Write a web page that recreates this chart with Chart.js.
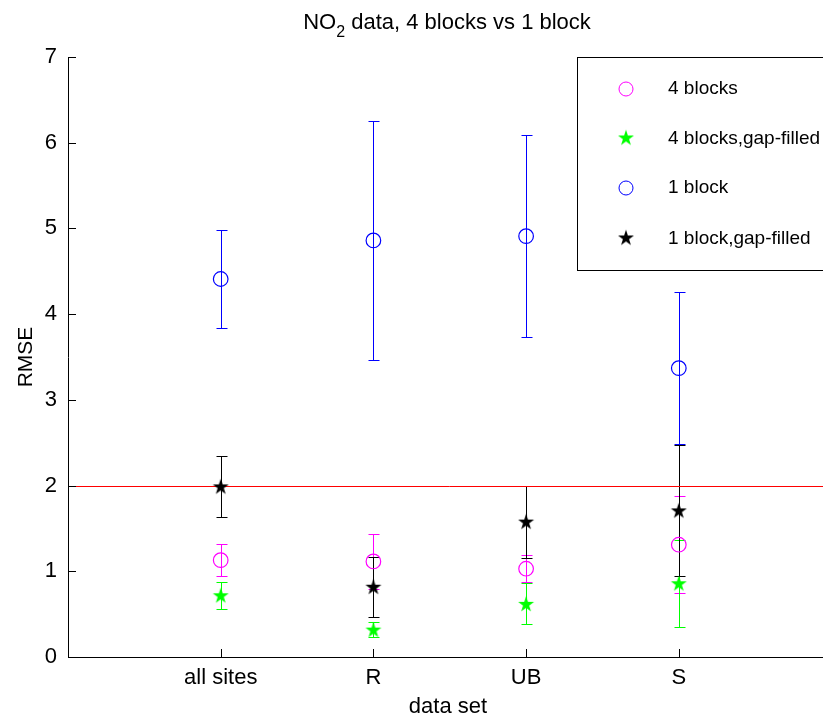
<!DOCTYPE html>
<html>
<head>
<meta charset="utf-8">
<title>NO2 data, 4 blocks vs 1 block</title>
<script src="https://cdn.jsdelivr.net/npm/chart.js@4.4.1/dist/chart.umd.min.js"></script>
<style>
  html, body { margin: 0; padding: 0; background: #fff; overflow: hidden; }
  #wrap { width: 823px; height: 720px; overflow: hidden; position: relative; }
  canvas { display: block; }
</style>
</head>
<body>
<div id="wrap"><canvas id="chart" width="840" height="720"></canvas></div>
<script>
// Categories and tick values
const categories = ['all sites', 'R', 'UB', 'S'];
const yTickValues = [0, 1, 2, 3, 4, 5, 6, 7];

// RMSE means and error half-widths per data set
const rmse4Blocks        = [1.13, 1.115, 1.03, 1.31];
const err4Blocks         = [0.185, 0.325, 0.16, 0.565];
const rmse4BlocksFilled  = [0.72, 0.32, 0.62, 0.86];
const err4BlocksFilled   = [0.16, 0.087, 0.24, 0.505];
const rmse1Block         = [4.41, 4.86, 4.91, 3.37];
const err1Block          = [0.57, 1.39, 1.18, 0.89];
const rmse1BlockFilled   = [1.99, 0.82, 1.58, 1.71];
const err1BlockFilled    = [0.36, 0.35, 0.42, 0.765];

// Reference level
const threshold = 2;
const xMin = 0, xMax = 5;

const FONT = "'Liberation Sans', Arial, Helvetica, sans-serif";

// Filled five-pointed star used as a point style
function makeStar(color) {
  const c = document.createElement('canvas');
  c.width = 20; c.height = 20;
  const g = c.getContext('2d');
  const R = 8.4, r = R * 0.382;
  g.beginPath();
  for (let i = 0; i < 10; i++) {
    const rad = i % 2 === 0 ? R : r;
    const a = -Math.PI / 2 + i * Math.PI / 5;
    const px = 10 + rad * Math.cos(a), py = 10.7 + rad * Math.sin(a);
    if (i === 0) g.moveTo(px, py); else g.lineTo(px, py);
  }
  g.closePath();
  g.fillStyle = color;
  g.fill();
  return c;
}
const starGreen = makeStar('#00ff00');
const starBlack = makeStar('#000000');

const series = [
  { label: '4 blocks',             values: rmse4Blocks,       errors: err4Blocks,       color: '#ff00ff', marker: 'circle', order: 4 },
  { label: '4 blocks,gap-filled',  values: rmse4BlocksFilled, errors: err4BlocksFilled, color: '#00ff00', marker: starGreen, order: 3 },
  { label: '1 block',              values: rmse1Block,        errors: err1Block,        color: '#0000ff', marker: 'circle', order: 2 },
  { label: '1 block,gap-filled',   values: rmse1BlockFilled,  errors: err1BlockFilled,  color: '#000000', marker: starBlack, order: 1 }
];

const datasets = series.map(s => ({
  label: s.label,
  data: s.values.map((v, i) => ({ x: i + 1, y: v })),
  borderColor: s.color,
  backgroundColor: 'rgba(0,0,0,0)',
  pointStyle: s.marker,
  pointRadius: 7.3,
  pointHoverRadius: 7.3,
  pointBorderWidth: 1.2,
  showLine: false,
  order: s.order
}));

// Vertical error bars with caps and the horizontal reference level,
// drawn before (under) the markers
const errorBars = {
  id: 'errorBars',
  beforeDatasetsDraw(chart) {
    const ctx = chart.ctx, ys = chart.scales.y, xs = chart.scales.x;
    ctx.save();
    ctx.lineWidth = 1;
    series.forEach(s => {
      ctx.strokeStyle = s.color;
      s.values.forEach((v, i) => {
        const x = Math.round(xs.getPixelForValue(i + 1)) + 0.5;
        const top = Math.round(ys.getPixelForValue(v + s.errors[i])) + 0.5;
        const bot = Math.round(ys.getPixelForValue(v - s.errors[i])) + 0.5;
        ctx.beginPath();
        ctx.moveTo(x, top); ctx.lineTo(x, bot);
        ctx.moveTo(x - 5, top); ctx.lineTo(x + 6, top);
        ctx.moveTo(x - 5, bot); ctx.lineTo(x + 6, bot);
        ctx.stroke();
      });
    });
    // threshold line across the full x range
    const ty = Math.round(ys.getPixelForValue(threshold)) + 0.5;
    ctx.strokeStyle = '#ff0000';
    ctx.beginPath();
    ctx.moveTo(xs.getPixelForValue(xMin), ty);
    ctx.lineTo(xs.getPixelForValue(xMax), ty);
    ctx.stroke();
    ctx.restore();
  }
};

// Inward tick marks, titles and the legend box
const decorations = {
  id: 'decorations',
  afterDraw(chart) {
    const ctx = chart.ctx, area = chart.chartArea;
    const xs = chart.scales.x, ys = chart.scales.y;
    ctx.save();
    ctx.strokeStyle = '#000';
    ctx.lineWidth = 1;
    ctx.beginPath();
    yTickValues.forEach(v => {
      const y = Math.round(ys.getPixelForValue(v)) + 0.5;
      ctx.moveTo(area.left, y); ctx.lineTo(area.left + 8, y);
    });
    categories.forEach((c, i) => {
      const x = Math.round(xs.getPixelForValue(i + 1)) + 0.5;
      ctx.moveTo(x, area.bottom); ctx.lineTo(x, area.bottom - 8);
    });
    ctx.stroke();

    // Title with subscript
    ctx.fillStyle = '#000';
    ctx.textBaseline = 'alphabetic';
    ctx.textAlign = 'left';
    const cx = 447;
    const big = '22px ' + FONT, small = '16px ' + FONT;
    const p1 = 'NO', p2 = '2', p3 = ' data, 4 blocks vs 1 block';
    ctx.font = big; const w1 = ctx.measureText(p1).width, w3 = ctx.measureText(p3).width;
    ctx.font = small; const w2 = ctx.measureText(p2).width;
    let tx = cx - (w1 + w2 + w3) / 2;
    const base = 29;
    ctx.font = big; ctx.fillText(p1, tx, base); tx += w1;
    ctx.font = small; ctx.fillText(p2, tx, base + 8); tx += w2;
    ctx.font = big; ctx.fillText(p3, tx, base);

    // Axis titles
    ctx.font = '22px ' + FONT;
    ctx.textAlign = 'center';
    ctx.textBaseline = 'middle';
    ctx.fillText('data set', 448, 707);
    ctx.save();
    ctx.translate(26, (area.top + area.bottom) / 2);
    ctx.rotate(-Math.PI / 2);
    ctx.font = '21px ' + FONT;
    ctx.fillText('RMSE', 0, 0);
    ctx.restore();

    // Legend
    const lx = 577.5, ly = 57.5, lw = 300, lh = 213;
    ctx.fillStyle = '#fff';
    ctx.fillRect(lx, ly, lw, lh);
    ctx.strokeStyle = '#000';
    ctx.strokeRect(lx, ly, lw, lh);
    ctx.font = '19px ' + FONT;
    ctx.textAlign = 'left';
    const rowY = [89, 138.5, 188, 238.5];
    series.forEach((s, i) => {
      const my = rowY[i], mx = 626;
      if (s.marker === 'circle') {
        ctx.beginPath();
        ctx.strokeStyle = s.color;
        ctx.lineWidth = 1;
        ctx.arc(mx, my, 7, 0, Math.PI * 2);
        ctx.stroke();
      } else {
        ctx.drawImage(s.marker, mx - 10, my - 11);
      }
      ctx.fillStyle = '#000';
      ctx.fillText(s.label, 668, my);
    });
    ctx.restore();
  }
};

Chart.defaults.font.family = FONT;
Chart.defaults.color = '#000';

new Chart(document.getElementById('chart'), {
  type: 'scatter',
  data: { datasets },
  options: {
    responsive: false,
    animation: false,
    devicePixelRatio: 1,
    layout: { padding: { top: 57, right: 8, left: 0, bottom: 0 } },
    plugins: { legend: { display: false }, tooltip: { enabled: false }, title: { display: false } },
    scales: {
      x: {
        type: 'linear',
        min: xMin, max: xMax,
        afterBuildTicks: scale => { scale.ticks = categories.map((c, i) => ({ value: i + 1 })); },
        afterFit: scale => { scale.height = 63; },
        ticks: {
          callback: v => categories[v - 1],
          font: { size: 22 },
          padding: 8,
          color: '#000',
          autoSkip: false,
          maxRotation: 0
        },
        grid: { display: true, drawOnChartArea: false, drawTicks: false },
        border: { display: true, color: '#000', width: 1 }
      },
      y: {
        min: 0, max: 7,
        afterBuildTicks: scale => { scale.ticks = yTickValues.map(v => ({ value: v })); },
        afterFit: scale => { scale.width = 68; },
        ticks: { font: { size: 22 }, padding: 11, color: '#000' },
        grid: { display: true, drawOnChartArea: false, drawTicks: false },
        border: { display: true, color: '#000', width: 1 }
      }
    }
  },
  plugins: [errorBars, decorations]
});
</script>
</body>
</html>
